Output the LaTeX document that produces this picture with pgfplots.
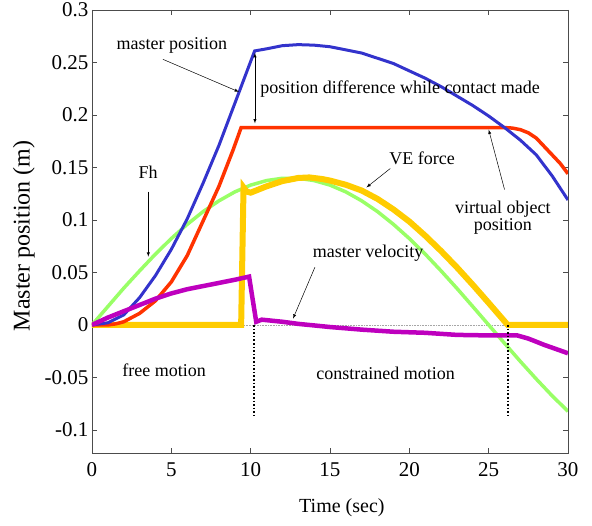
\documentclass[border=0pt]{standalone}
\usepackage{fontspec}
\setmainfont{Liberation Serif}
\usepackage{pgfplots}
\pgfplotsset{compat=1.18}
\usetikzlibrary{arrows}

\definecolor{cBlue}{RGB}{51,51,204}
\definecolor{cRed}{RGB}{255,51,0}
\definecolor{cGreen}{RGB}{153,255,102}
\definecolor{cGold}{RGB}{255,204,0}
\definecolor{cMag}{RGB}{190,0,190}

\begin{document}
\begin{tikzpicture}
\path[use as bounding box] (-92pt,-73pt) rectangle (500pt,453pt);
\begin{axis}[
    at={(0,0)}, anchor=south west,
    width=476pt, height=443pt, scale only axis,
    xmin=0, xmax=30, ymin=-0.122, ymax=0.3,
    xtick={0,5,10,15,20,25,30},
    xticklabels={0,5,10,15,20,25,30},
    ytick={-0.1,-0.05,0,0.05,0.1,0.15,0.2,0.25,0.3},
    yticklabels={-0.1,-0.05,0,0.05,0.1,0.15,0.2,0.25,0.3},
    tick align=inside,
    major tick length=5pt,
    tick style={black!70, line width=0.6pt},
    axis line style={black!70, line width=0.8pt},
    ticklabel style={font=\fontsize{21}{24}\selectfont},
    xticklabel style={yshift=-6pt},
    xlabel={Time (sec)},
    ylabel={Master position (m)},
    xlabel style={font=\fontsize{20}{24}\selectfont, at={(axis description cs:0.525,-0.124)}, anchor=center},
    ylabel style={font=\fontsize{24}{28}\selectfont, at={(axis description cs:-0.143,0.49)}, anchor=center},
]
% zero reference
\addplot[gray!70, densely dotted, line width=0.6pt] coordinates {(0,0) (30,0)};

% Fh
\addplot[cGreen, line width=3.5pt] coordinates {
(0,0) (1,0.0175) (2,0.035) (3,0.0515) (4,0.0675) (5,0.0823) (6,0.0958)
(7,0.1079) (8,0.1182) (9,0.1267) (10,0.1332) (11,0.1375) (12,0.1397)
(13,0.1397) (14,0.1375) (15,0.1332) (16,0.1267) (17,0.1182) (18,0.1079)
(19,0.0958) (20,0.0823) (21,0.0675) (22,0.0515) (23,0.0348) (24,0.0175)
(25,0) (26,-0.0175) (27,-0.0348) (28,-0.0515) (29,-0.0675) (30,-0.0823)};

% VE force
\addplot[cGold, line width=6pt] coordinates {
(0,0) (9.4,0) (9.55,0.131) (9.75,0.127) (10,0.126) (10.5,0.129) (11,0.132)
(12,0.137) (13,0.140) (13.7,0.1405) (14.5,0.139) (15,0.1375) (16,0.1335)
(17,0.128) (18,0.120) (19,0.110) (20,0.0985) (21,0.085) (22,0.0704)
(23,0.0548) (24,0.0382) (25,0.021) (26,0.0035) (26.2,0) (30,0)};

% virtual object position
\addplot[cRed, line width=3.5pt] coordinates {
(0,0) (1,0) (1.5,0.001) (2,0.003) (3,0.011) (4,0.023) (5,0.041) (6,0.066)
(7,0.099) (8,0.132) (8.9,0.167) (9.4,0.188) (26,0.188) (26.5,0.1875)
(27,0.186) (27.5,0.183) (28,0.178) (28.5,0.17) (29,0.162) (29.5,0.154) (30,0.144)};

% master position
\addplot[cBlue, line width=3pt] coordinates {
(0,0) (1,0.002) (2,0.0095) (3,0.026) (4,0.047) (5,0.072) (6,0.101)
(7,0.135) (8,0.171) (9,0.211) (10.25,0.261) (11,0.263) (12,0.266)
(13,0.267) (14,0.2665) (15,0.265) (16,0.262) (17,0.259) (18,0.254)
(19,0.249) (20,0.242) (21,0.235) (22,0.227) (23,0.218) (24,0.209)
(25,0.199) (26,0.188) (27,0.176) (28,0.162) (29,0.142) (30,0.119)};

% master velocity
\addplot[cMag, line width=4.5pt] coordinates {
(0,0) (1,0.007) (2,0.013) (3,0.019) (4,0.025) (5,0.030) (6,0.034)
(7,0.037) (8,0.040) (9,0.043) (9.9,0.046) (10.35,0.003) (10.7,0.005)
(12,0.003) (13,0.001) (15,-0.002) (17,-0.0045) (19,-0.0065) (21,-0.0075)
(23,-0.0095) (25,-0.010) (26.8,-0.010) (27.5,-0.013) (28.5,-0.019) (30,-0.027)};

% contact markers
\addplot[black, dotted, line width=1.6pt] coordinates {(10.2,0) (10.2,-0.087)};
\addplot[black, dotted, line width=1.6pt] coordinates {(26.2,0) (26.2,-0.087)};

% annotations
\begin{scope}[every node/.style={font=\fontsize{18}{20}\selectfont, inner sep=0pt}]
\node at (axis cs:5.04,0.266) {master position};
\draw[-latex, line width=0.5pt] (axis cs:4.47,0.253) -- (axis cs:9.26,0.222);
\draw[latex-latex, line width=0.5pt] (axis cs:10.27,0.259) -- (axis cs:10.27,0.192);
\node[anchor=west] at (axis cs:10.6,0.2248) {position difference while contact made};
\node at (axis cs:3.53,0.145) {Fh};
\draw[-latex, line width=0.5pt] (axis cs:3.55,0.127) -- (axis cs:3.55,0.065);
\node at (axis cs:20.8,0.159) {VE force};
\draw[-latex, line width=0.5pt] (axis cs:18.8,0.149) -- (axis cs:17.3,0.131);
\node[align=center] at (axis cs:25.9,0.102) {virtual object\\[-3pt]position};
\draw[-latex, line width=0.5pt] (axis cs:26.0,0.129) -- (axis cs:25.0,0.186);
\node at (axis cs:17.4,0.068) {master velocity};
\draw[-latex, line width=0.5pt] (axis cs:14.05,0.055) -- (axis cs:12.67,0.006);
\node at (axis cs:4.54,-0.043) {free motion};
\node at (axis cs:18.5,-0.046) {constrained motion};
\end{scope}
\end{axis}
\end{tikzpicture}
\end{document}
